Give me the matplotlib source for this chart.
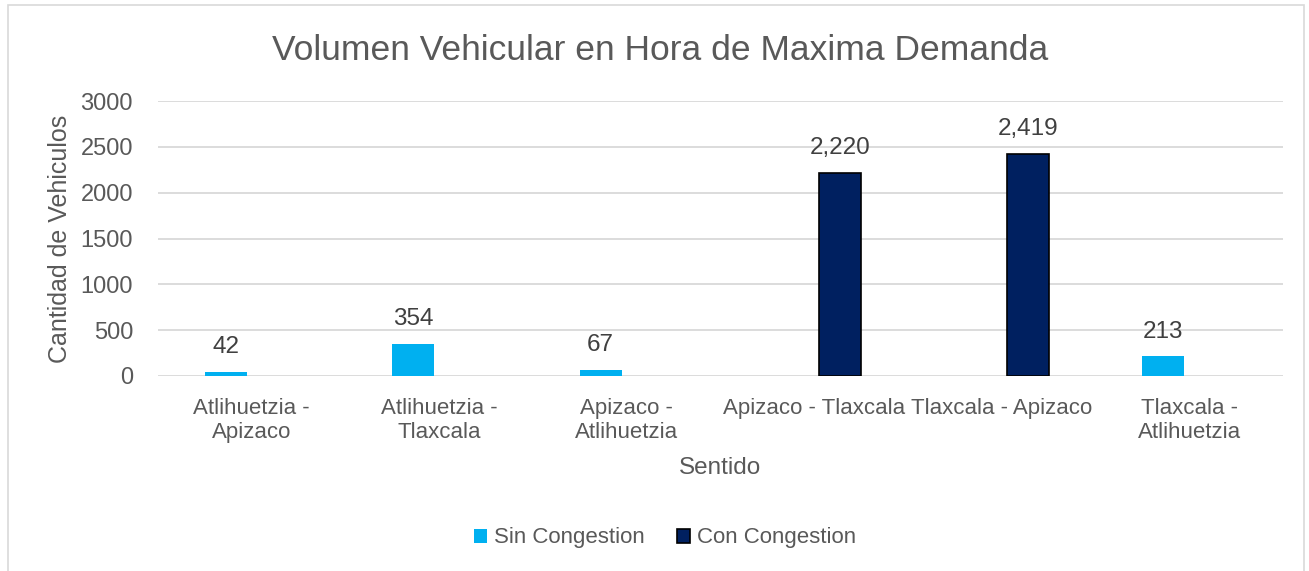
import matplotlib
matplotlib.use("Agg")
import matplotlib.pyplot as plt
import numpy as np
from matplotlib.patches import Rectangle

categorias = ["Atlihuetzia -\nApizaco", "Atlihuetzia -\nTlaxcala", "Apizaco -\nAtlihuetzia",
              "Apizaco - Tlaxcala", "Tlaxcala - Apizaco", "Tlaxcala -\nAtlihuetzia"]
sin_congestion = [42, 354, 67, np.nan, np.nan, 213]
con_congestion = [np.nan, np.nan, np.nan, 2220, 2419, np.nan]
y_ticks = [0, 500, 1000, 1500, 2000, 2500, 3000]

plt.rcParams['font.family'] = ['Liberation Sans', 'DejaVu Sans']
gris = '#595959'

fig = plt.figure(figsize=(13.09, 5.71), dpi=100)
ax = fig.add_axes([158/1309, 1-376/571, 1125/1309, 275/571])

# marco del grafico
fig.patches.append(Rectangle((8/1309, -0.01), 1296/1309, 1-5/571+0.01, transform=fig.transFigure,
                             fill=False, edgecolor='#D9D9D9', linewidth=1.2))

x = np.arange(len(categorias))
ancho = 0.224
off = 0.139
p1 = ax.bar(x - off, sin_congestion, ancho, color='#00B0F0', zorder=3)
p2 = ax.bar(x + off, con_congestion, ancho, color='#002060', edgecolor='black', linewidth=1.2, zorder=3)

for xs, vals in ((x - off, sin_congestion), (x + off, con_congestion)):
    for xi, v in zip(xs, vals):
        if not np.isnan(v):
            ax.annotate(f"{int(v):,}", (xi, v), xytext=(0, 10), textcoords='offset points',
                        ha='center', va='bottom', fontsize=17.5, color='#404040')

ax.set_xlim(-0.5, len(categorias) - 0.5)
ax.set_ylim(0, 3000)
ax.set_yticks(y_ticks)
ax.set_xticks(x)
ax.set_xticklabels(categorias, fontsize=16, color=gris, linespacing=1.2)
ax.tick_params(axis='y', labelsize=17, labelcolor=gris, length=0, pad=18)
ax.tick_params(axis='x', length=0, pad=16)
ax.grid(axis='y', color='#D9D9D9', linewidth=1.3, zorder=0)
for s in ax.spines.values():
    s.set_visible(False)

ax.set_ylabel('Cantidad de Vehiculos', fontsize=18, color=gris, labelpad=6)
ax.set_xlabel('Sentido', fontsize=17.5, color=gris, labelpad=10)
fig.text(0.504, 1-50/571, 'Volumen Vehicular en Hora de Maxima Demanda', ha='center', va='center',
         fontsize=25.5, color=gris)

fig.legend((p1[0], p2[0]), ('Sin Congestion', 'Con Congestion'), loc='center',
           bbox_to_anchor=(0.508, 1-538/571), ncol=2, frameon=False, fontsize=16,
           handlelength=0.6, handleheight=0.6, handletextpad=0.3, columnspacing=1.45,
           labelcolor=gris)

fig.savefig('out.png', dpi=100)
